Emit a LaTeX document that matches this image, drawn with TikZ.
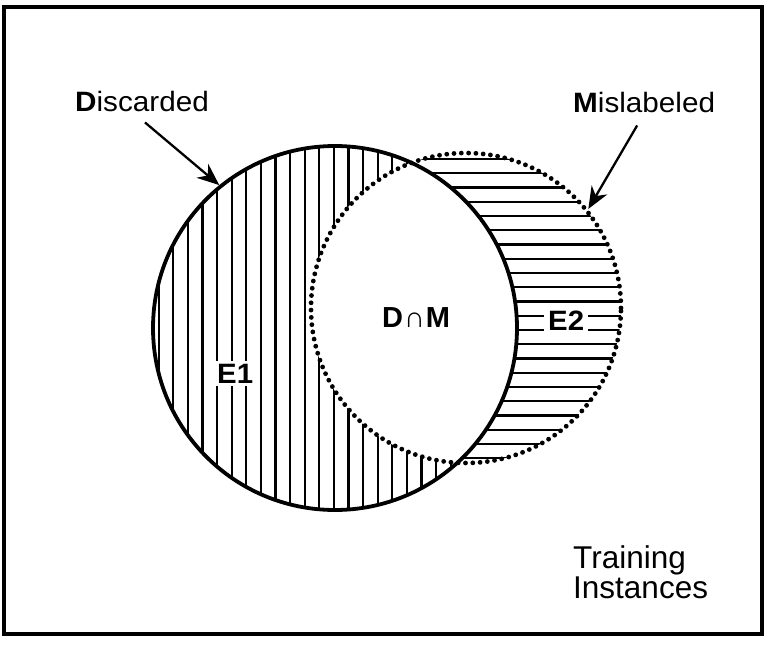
\documentclass[tikz,border=0pt]{standalone}
\usepackage{fontspec}
\setmainfont{Liberation Sans}
\usetikzlibrary{arrows.meta}
\begin{document}
\begin{tikzpicture}[x=1pt,y=-1pt,
  hatch/.style={line width=2.3pt},
  setD/.style={circle, draw, line width=3.8pt, minimum size=364pt, inner sep=0pt},
  setM/.style={circle, draw, line width=4.8pt, line cap=round, dash pattern=on 0pt off 7.3pt, minimum size=310pt, inner sep=0pt},
  setlbl/.style={inner sep=0pt, anchor=base west, font=\fontsize{28}{30}\selectfont},
  elbl/.style={fill=white, inner xsep=4pt, inner ysep=2.5pt, anchor=base west, font=\fontsize{28}{30}\selectfont\bfseries},
  pointer/.style={line width=2.3pt, -{Stealth[length=22pt,width=18pt,inset=7pt]}}]
\useasboundingbox (0,0) rectangle (771,645);
\draw[line width=4pt] (4,6.5) rectangle (761.5,633.5);
\coordinate (cD) at (335,328);
\coordinate (cM) at (466,308);
% E1: vertical hatching inside D
\begin{scope}
  \clip (cD) circle[radius=182pt];
  \foreach \i in {0,...,25} \draw[hatch] ({158.7+14.6*\i},140) -- ({158.7+14.6*\i},520);
\end{scope}
% E2: horizontal hatching inside M, outside D
\begin{scope}
  \clip (cM) circle[radius=155pt];
  \fill[white] (cM) circle[radius=156pt];
  \foreach \i in {0,...,21} \draw[hatch] (300,{159+14.25*\i}) -- (630,{159+14.25*\i});
  \clip (cD) circle[radius=182pt];
  \fill[white] (0,0) rectangle (771,645);
\end{scope}
% sets
\node[setD] (D) at (cD) {};
\node[setM] (M) at (cM) {};
% labels
\node[setlbl] (disc) at (75,111) {\scalebox{1.06}[1]{\textbf{D}iscarded}};
\node[setlbl] (misl) at (573,112) {\scalebox{1.06}[1]{\textbf{M}islabeled}};
\draw[pointer] ([xshift=3pt,yshift=-11pt]disc.south) -- (D.129);
\draw[pointer] ([xshift=-7pt,yshift=-13pt]misl.south) -- (M.39);
\node[elbl] (e1) at (213,383) {\scalebox{1.05}[1]{E1}};
\node[elbl] (e2) at (544,330) {\scalebox{1.05}[1]{E2}};
\node[inner sep=0pt, anchor=base west, font=\fontsize{29}{30}\selectfont\bfseries] (dm) at (382,327) {D\kern1pt{\mdseries ∩}\kern1pt M};
\node[inner sep=0pt, anchor=base west, align=left, font=\fontsize{31.5}{30}\selectfont] (train) at (573,598) {Training\\Instances};
\end{tikzpicture}
\end{document}
